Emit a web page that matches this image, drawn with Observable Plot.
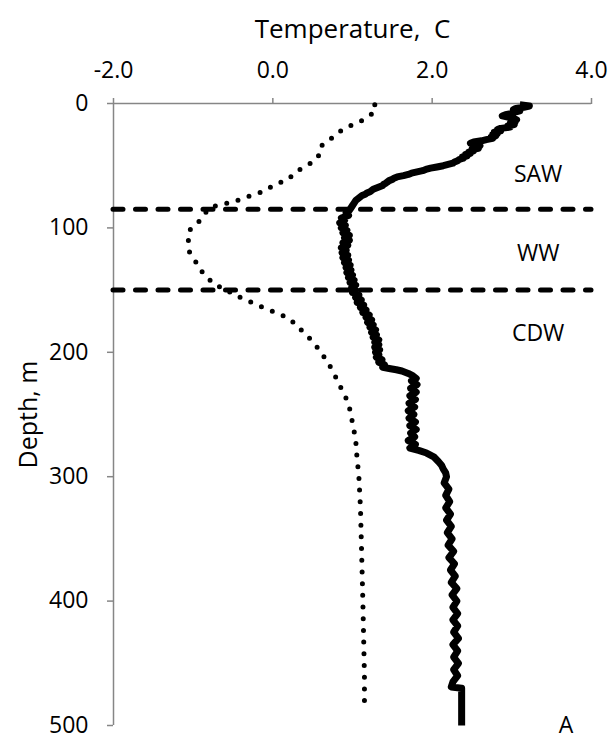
<!DOCTYPE html>
<html><head><meta charset="utf-8">
<script src="https://cdn.jsdelivr.net/npm/d3@7"></script>
<script src="https://cdn.jsdelivr.net/npm/@observablehq/plot@0.6"></script>
<style>html,body{margin:0;padding:0;background:#fff}</style>
</head><body><div id="chart"></div>
<script>
const xTicks = [-2, 0, 2, 4];
const yTicks = [0, 100, 200, 300, 400, 500];
const xTitle = "Temperature,  C";
const yTitle = "Depth, m";
const layerBounds = [85, 150];
const layerNames = ["SAW", "WW", "CDW"];
const layerLabelDepth = [57, 121, 185];
const layerLabelTemp = 3.33;
const panelLabel = ["A"];

// Dotted profile (depth m, temperature C)
const dottedDepth = [1,6,10,13,16,20,24,30,34,40,47,51,56,62,65,70,73,76,79,81,83,88,96,102,110,119,127,133,140,146,149,153,157,161,165,168,172,177,183,190,197,208,216,224,233,241,250,260,270,280,300,325,350,375,400,430,460,488];
const dottedTemp = [1.28,1.29,1.21,1.14,1.04,0.90,0.81,0.70,0.61,0.60,0.51,0.38,0.28,0.17,0.02,-0.09,-0.23,-0.37,-0.49,-0.63,-0.77,-0.85,-0.94,-1.05,-1.06,-1.05,-0.97,-0.92,-0.82,-0.73,-0.59,-0.51,-0.37,-0.23,-0.09,0.04,0.18,0.28,0.37,0.48,0.57,0.69,0.76,0.82,0.89,0.95,0.98,1.01,1.04,1.05,1.08,1.10,1.11,1.12,1.13,1.14,1.15,1.15];

// Solid (thick) profile
const solidDepth = [1,2,3,4,5,6,7,8,9,10,11,12,13,14,15,16,17,18,19,20,21,22,23,24,25,26,27,28,29,30,31,32,33,34,35,36,37,38,39,40,41,42,43,44,45,46,47,48,49,50,51,52,53,54,55,56,57,58,59,60,61,62,63,64,65,66,67,68,69,70,71,72,73,74,75,76,77,78,79,80,82,84,86,88,90,92,94,96,98,100,102,104,106,108,110,112,114,116,118,120,122,124,126,128,130,132,134,136,138,140,142,144,146,148,150,152,154,156,158,160,162,164,166,168,170,172,174,176,178,180,182,184,186,188,190,192,194,196,198,200,202,204,206,208,210,212,213,214,215,216,217,219,221,223,226,229,232,235,238,241,244,247,250,253,256,259,262,265,268,271,274,277,279,281,284,288,291,294,297,300,305,310,315,320,325,330,335,340,345,350,355,360,365,370,375,380,385,390,395,400,405,410,415,420,425,430,435,440,445,450,455,460,465,469,470,485,500];
const solidTemp = [3.10,3.22,3.15,3.05,3.02,3.10,3.04,3.00,2.92,2.88,2.95,3.02,3.06,3.00,3.04,2.98,3.03,2.95,2.98,2.86,2.82,2.86,2.78,2.82,2.76,2.80,2.74,2.76,2.68,2.62,2.52,2.48,2.56,2.60,2.55,2.58,2.50,2.52,2.46,2.48,2.42,2.44,2.38,2.39,2.34,2.32,2.28,2.26,2.20,2.14,2.06,1.98,1.92,1.88,1.81,1.74,1.70,1.64,1.56,1.52,1.50,1.46,1.44,1.42,1.39,1.38,1.34,1.30,1.26,1.24,1.22,1.18,1.16,1.12,1.10,1.08,1.06,1.04,1.03,1.02,1.00,0.98,0.96,0.92,0.95,0.86,0.90,0.84,0.91,0.86,0.93,0.88,0.96,0.90,0.96,0.88,0.94,0.86,0.92,0.87,0.94,0.88,0.95,0.90,0.97,0.92,0.98,0.93,1.00,0.95,1.02,0.97,1.04,0.99,1.04,1.00,1.08,1.04,1.11,1.06,1.14,1.10,1.17,1.13,1.21,1.17,1.24,1.19,1.26,1.22,1.29,1.24,1.30,1.26,1.33,1.28,1.33,1.28,1.34,1.29,1.33,1.30,1.37,1.33,1.40,1.38,1.46,1.55,1.62,1.66,1.70,1.76,1.80,1.74,1.81,1.73,1.80,1.72,1.79,1.71,1.78,1.70,1.77,1.71,1.79,1.72,1.80,1.73,1.78,1.70,1.79,1.72,1.84,1.93,2.02,2.08,2.12,2.14,2.17,2.18,2.15,2.21,2.17,2.22,2.17,2.23,2.18,2.24,2.19,2.25,2.20,2.27,2.21,2.28,2.23,2.29,2.24,2.31,2.25,2.31,2.26,2.32,2.26,2.32,2.27,2.33,2.26,2.32,2.27,2.33,2.27,2.32,2.26,2.24,2.37,2.37,2.37];

const dotted = dottedDepth.map((d, i) => ({depth: d, temp: dottedTemp[i]}));
const solid = solidDepth.map((d, i) => ({depth: d, temp: solidTemp[i]}));
const layers = layerNames.map((n, i) => ({name: n, depth: layerLabelDepth[i], temp: layerLabelTemp}));

const axisGray = "#868686";
const font = "'Open Sans', 'Noto Sans', sans-serif";

const chart = Plot.plot({
  width: 610,
  height: 741,
  marginTop: 103,
  marginBottom: 16,
  marginLeft: 113,
  marginRight: 19,
  style: {fontFamily: font, fontSize: "23px", background: "white", color: "black"},
  x: {domain: [-2, 4]},
  y: {domain: [0, 500], reverse: true},
  marks: [
    Plot.ruleY([0], {stroke: axisGray, strokeWidth: 1.5}),
    Plot.ruleX([-2], {stroke: axisGray, strokeWidth: 1.5}),
    Plot.axisX({anchor: "top", ticks: xTicks, tickFormat: d => d.toFixed(1), tickSize: 6, tickPadding: 20, stroke: axisGray, strokeWidth: 1.5, fill: "black", fontSize: 23, label: null}),
    Plot.axisY({anchor: "left", ticks: yTicks, tickSize: 6, tickPadding: 19, stroke: axisGray, strokeWidth: 1.5, fill: "black", fontSize: 23, label: null}),
    Plot.ruleY(layerBounds, {stroke: "black", strokeWidth: 5, strokeDasharray: "10,12.5", strokeLinecap: "round"}),
    Plot.line(dotted, {x: "temp", y: "depth", stroke: "black", strokeWidth: 5, strokeDasharray: "0,11.7", strokeLinecap: "round"}),
    Plot.line(solid, {x: "temp", y: "depth", stroke: "black", strokeWidth: 7, strokeLinejoin: "round", strokeLinecap: "butt"}),
    Plot.text(layers, {x: "temp", y: "depth", text: "name", fontSize: 23, fill: "black", textAnchor: "middle", lineAnchor: "middle"}),
    Plot.text(panelLabel, {x: 3.68, y: 500, text: d => d, fontSize: 23, fill: "black", textAnchor: "middle", lineAnchor: "middle"}),
    Plot.text([xTitle], {x: 1, frameAnchor: "top", dy: -66, text: d => d, fontSize: 26, fill: "black", textAnchor: "middle", lineAnchor: "bottom"}),
    Plot.text([yTitle], {frameAnchor: "left", dx: -85, rotate: -90, text: d => d, fontSize: 25, fill: "black", textAnchor: "middle", lineAnchor: "middle"})
  ]
});
document.getElementById("chart").appendChild(chart);
</script>
</body></html>
